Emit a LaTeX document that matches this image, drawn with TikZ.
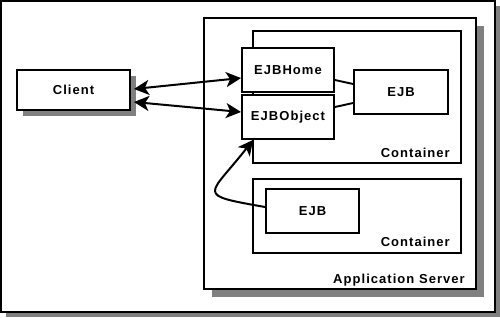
\documentclass[tikz,border=0pt]{standalone}
\usepackage{fontspec}
\setmainfont[LetterSpace=8]{Liberation Sans}
\usetikzlibrary{positioning}
\usetikzlibrary{shadows}
\usetikzlibrary{arrows.meta}
\definecolor{shadowColor}{gray}{0.5}

\begin{document}
\begin{tikzpicture}[x=1pt,y=-1pt]

          \tikzstyle{boxNode} = [draw, line width=1.9pt, fill=white, inner sep=0pt,
                                 font=\fontsize{13}{15}\selectfont\bfseries];
          \tikzstyle{shadowNode} = [boxNode, general shadow={fill=shadowColor, shadow xshift=6pt, shadow yshift=-6pt}];
          \tikzstyle{frameNode} = [boxNode, general shadow={fill=shadowColor, shadow xshift=5pt, shadow yshift=-5pt}];
          \tikzstyle{serverNode} = [boxNode, general shadow={fill=shadowColor, shadow xshift=8pt, shadow yshift=-8pt}];
          \tikzstyle{labelNode} = [inner sep=0pt, anchor=base east, font=\fontsize{13}{15}\selectfont\bfseries];

          \tikzstyle{linkEdge} = [line width=1.9pt];
          \tikzstyle{callEdge} = [line width=2pt, >={Stealth[length=15pt,width=15pt,inset=4pt]}, <->];
          \tikzstyle{returnEdge} = [line width=2pt, >={Stealth[length=15pt,width=15pt,inset=4pt]}, ->];

          \useasboundingbox (0,0) rectangle (500,317);

          \node[frameNode, minimum width=494pt, minimum height=311pt] (frame) at (248,156.5) {};
          \node[serverNode, minimum width=272pt, minimum height=271pt] (server) at (340,153.5) {};
          \node[shadowNode, minimum width=113pt, minimum height=40pt] (client) at (73.5,90) {Client};

          \node[boxNode, minimum width=208pt, minimum height=132pt] (contTop) at (357,97) {};
          \node[boxNode, minimum width=208pt, minimum height=74pt] (contLow) at (357,216) {};

          \node[boxNode, minimum width=92pt, minimum height=44pt] (home) at (288,70) {EJBHome};
          \node[boxNode, minimum width=92pt, minimum height=44pt] (obj) at (288,117) {EJBObject};
          \node[boxNode, minimum width=94pt, minimum height=44pt] (ejbTop) at (401,92) {EJB};
          \node[boxNode, minimum width=93pt, minimum height=44pt] (ejbLow) at (312.5,211) {EJB};

          \node[labelNode] (contTopLabel) at ([xshift=-12pt,yshift=6pt]contTop.south east) {Container};
          \node[labelNode] (contLowLabel) at ([xshift=-12pt,yshift=7pt]contLow.south east) {Container};
          \node[labelNode] (serverLabel) at ([xshift=-12pt,yshift=6pt]server.south east) {Application Server};

          \draw[callEdge] ([xshift=3pt,yshift=1pt]client.east) -- ([yshift=-8pt]home.west);
          \draw[callEdge] ([xshift=3pt,yshift=-12pt]client.east) -- ([yshift=5pt]obj.west);
          \draw[linkEdge] ([yshift=-10pt]home.east) -- ([yshift=8pt]ejbTop.west);
          \draw[linkEdge] ([yshift=10pt]obj.east) -- ([yshift=-11pt]ejbTop.west);
          \draw[returnEdge] ([yshift=4pt]ejbLow.west) to[out=170,in=-128,looseness=2.7] ([xshift=12pt]obj.south west);
        \end{tikzpicture}
\end{document}
